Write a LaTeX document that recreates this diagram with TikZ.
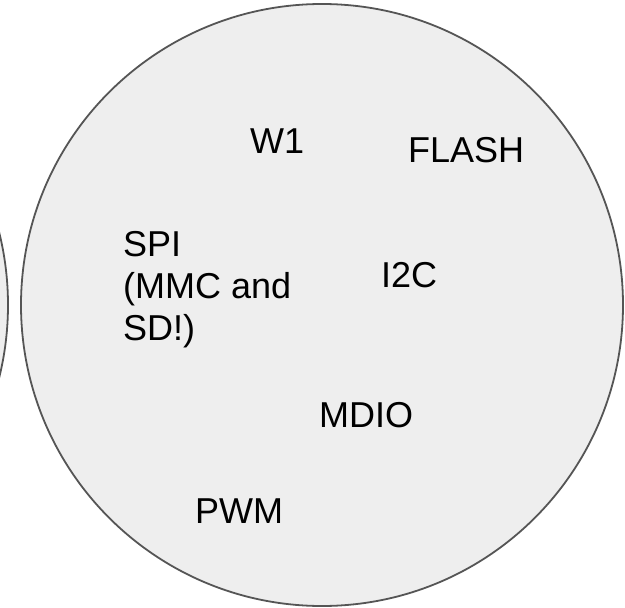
\documentclass[tikz,border=0pt]{standalone}
\usepackage{fontspec}
\setmainfont{Liberation Sans}
\definecolor{ringfill}{HTML}{EEEEEE}
\definecolor{ringline}{HTML}{555555}
\begin{document}
\begin{tikzpicture}[x=1pt,y=-1pt,
  group/.style={draw=ringline, fill=ringfill, line width=1.8pt},
  label/.style={inner sep=0pt, anchor=base west, text=black,
    font=\fontsize{36}{41.7}\selectfont}]
\useasboundingbox (0,0) rectangle (625,608);
% neighbouring group, only its edge shows
\path[group] (-293,305) circle (301);
% main group
\path[group] (322,305) circle (301);
\node[label] (w1) at (250,153) {W1};
\node[label] (flash) at (408,162) {FLASH};
% multi-line node: base anchor sits on the last line
\node[label, align=left] (spi) at (123,340) {SPI\\(MMC and\\SD!)};
\node[label] (i2c) at (381,287) {I2C};
\node[label] (mdio) at (319,427) {MDIO};
\node[label] (pwm) at (195,523) {PWM};
\end{tikzpicture}
\end{document}
